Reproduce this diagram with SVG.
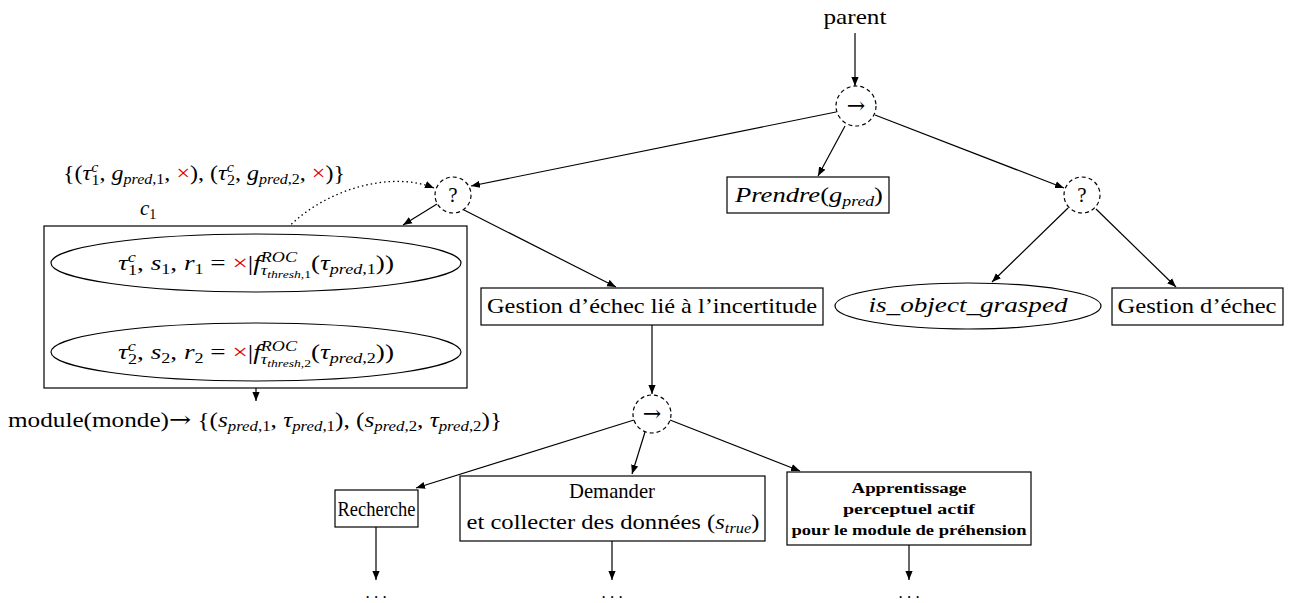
<svg xmlns="http://www.w3.org/2000/svg" width="1291" height="603" viewBox="0 0 1291 603">
<style>
text{font-family:"Liberation Serif","DejaVu Serif",serif;font-size:21px;fill:#000}
.i{font-style:italic}
.s{font-size:14px}
.ss{font-size:10.5px}
.r{fill:#e00000}
.b{font-weight:bold;font-size:15px}
.arr{font-family:"DejaVu Serif",serif;font-size:22px}
.dt{font-size:17px}
.box{fill:#fff;stroke:#000;stroke-width:1.2}
.dash{fill:#fff;stroke:#000;stroke-width:1.2;stroke-dasharray:4 3}
.e{fill:none;stroke:#000;stroke-width:1.2;marker-end:url(#ah)}
.dot{fill:none;stroke:#000;stroke-width:1.3;stroke-dasharray:1.5 3;marker-end:url(#ah)}
</style>
<defs>
<marker id="ah" viewBox="0 0 10 10" refX="10" refY="5" markerWidth="9" markerHeight="9" markerUnits="userSpaceOnUse" orient="auto"><path d="M0,1 L10,5 L0,9 z" fill="#000"/></marker>
</defs>
<rect width="1291" height="603" fill="#fff"/>
<g id="connectors">
<line class="e" x1="855" y1="33" x2="855" y2="86"/>
<line class="e" x1="836" y1="112" x2="471" y2="186"/>
<line class="e" x1="845" y1="126" x2="818" y2="176"/>
<line class="e" x1="875" y1="115" x2="1064" y2="188"/>
<line class="e" x1="437" y1="204" x2="403" y2="225"/>
<line class="e" x1="464" y1="210" x2="616" y2="287"/>
<path class="dot" d="M282,234 C320,190 390,170 434,188"/>
<line class="e" x1="256" y1="388" x2="256" y2="401"/>
<line class="e" x1="1068" y1="208" x2="992" y2="282"/>
<line class="e" x1="1096" y1="209" x2="1176" y2="287"/>
<line class="e" x1="652" y1="325" x2="652" y2="394"/>
<line class="e" x1="634" y1="420" x2="416" y2="488"/>
<line class="e" x1="645" y1="432" x2="632" y2="474"/>
<line class="e" x1="670" y1="420" x2="800" y2="471"/>
<line class="e" x1="376" y1="527" x2="376" y2="580"/>
<line class="e" x1="612" y1="541" x2="612" y2="580"/>
<line class="e" x1="909" y1="545" x2="909" y2="580"/>
</g>
<g id="parent"><text x="855" y="24" text-anchor="middle" textLength="63" lengthAdjust="spacingAndGlyphs">parent</text></g>
<g id="seq-top"><circle class="dash" cx="856" cy="106" r="20"/><text class="arr" x="856" y="113" text-anchor="middle">→</text></g>
<g id="fallback-left"><circle class="dash" cx="453" cy="195" r="18"/><text x="453" y="202" text-anchor="middle">?</text></g>
<g id="fallback-right"><circle class="dash" cx="1082" cy="195" r="18"/><text x="1082" y="202" text-anchor="middle">?</text></g>
<g id="prendre"><rect class="box" x="727" y="177" width="162" height="36"/><text x="809" y="202" text-anchor="middle" textLength="148" lengthAdjust="spacingAndGlyphs"><tspan class="i">Prendre</tspan>(<tspan class="i">g</tspan><tspan class="s i" dy="4">pred</tspan><tspan dy="-4">)</tspan></text></g>
<g id="set-label"><text x="63" y="180" textLength="282" lengthAdjust="spacingAndGlyphs">{(<tspan class="i">τ</tspan><tspan class="s i" dy="-8">c</tspan><tspan class="s" dx="-6" dy="13">1</tspan><tspan dy="-5">, </tspan><tspan class="i">g</tspan><tspan class="s i" dy="4">pred</tspan><tspan class="s">,1</tspan><tspan dy="-4">, </tspan><tspan class="r">×</tspan>), (<tspan class="i">τ</tspan><tspan class="s i" dy="-8">c</tspan><tspan class="s" dx="-6" dy="13">2</tspan><tspan dy="-5">, </tspan><tspan class="i">g</tspan><tspan class="s i" dy="4">pred</tspan><tspan class="s">,2</tspan><tspan dy="-4">, </tspan><tspan class="r">×</tspan>)}</text></g>
<g id="c1">
<text x="140" y="215" class="i">c<tspan class="s" font-style="normal" dy="4">1</tspan></text>
<rect class="box" x="44" y="226" width="423" height="162"/>
<ellipse class="box" cx="256" cy="263" rx="205" ry="29"/>
<text x="256" y="270" text-anchor="middle" textLength="276" lengthAdjust="spacingAndGlyphs"><tspan class="i">τ</tspan><tspan class="s i" dy="-8">c</tspan><tspan class="s" dx="-6" dy="13">1</tspan><tspan dy="-5">, </tspan><tspan class="i">s</tspan><tspan class="s" dy="4">1</tspan><tspan dy="-4">, </tspan><tspan class="i">r</tspan><tspan class="s" dy="4">1</tspan><tspan dy="-4"> = </tspan><tspan class="r">×</tspan>|<tspan class="i">f</tspan><tspan class="s i" dy="-8">ROC</tspan><tspan class="s i" dx="-28" dy="13">τ</tspan><tspan class="ss i" dy="3">thresh</tspan><tspan class="ss">,1</tspan><tspan dy="-8">(</tspan><tspan class="i">τ</tspan><tspan class="s i" dy="4">pred</tspan><tspan class="s">,1</tspan><tspan dy="-4">))</tspan></text>
<ellipse class="box" cx="256" cy="352" rx="205" ry="29"/>
<text x="256" y="359" text-anchor="middle" textLength="276" lengthAdjust="spacingAndGlyphs"><tspan class="i">τ</tspan><tspan class="s i" dy="-8">c</tspan><tspan class="s" dx="-6" dy="13">2</tspan><tspan dy="-5">, </tspan><tspan class="i">s</tspan><tspan class="s" dy="4">2</tspan><tspan dy="-4">, </tspan><tspan class="i">r</tspan><tspan class="s" dy="4">2</tspan><tspan dy="-4"> = </tspan><tspan class="r">×</tspan>|<tspan class="i">f</tspan><tspan class="s i" dy="-8">ROC</tspan><tspan class="s i" dx="-28" dy="13">τ</tspan><tspan class="ss i" dy="3">thresh</tspan><tspan class="ss">,2</tspan><tspan dy="-8">(</tspan><tspan class="i">τ</tspan><tspan class="s i" dy="4">pred</tspan><tspan class="s">,2</tspan><tspan dy="-4">))</tspan></text>
</g>
<g id="module-label"><text x="8" y="427" textLength="494" lengthAdjust="spacingAndGlyphs">module(monde)<tspan class="arr">→</tspan> {(<tspan class="i">s</tspan><tspan class="s i" dy="4">pred</tspan><tspan class="s">,1</tspan><tspan dy="-4">, </tspan><tspan class="i">τ</tspan><tspan class="s i" dy="4">pred</tspan><tspan class="s">,1</tspan><tspan dy="-4">), (</tspan><tspan class="i">s</tspan><tspan class="s i" dy="4">pred</tspan><tspan class="s">,2</tspan><tspan dy="-4">, </tspan><tspan class="i">τ</tspan><tspan class="s i" dy="4">pred</tspan><tspan class="s">,2</tspan><tspan dy="-4">)}</tspan></text></g>
<g id="gestion-incertitude"><rect class="box" x="481" y="288" width="342" height="37"/><text x="652" y="313" text-anchor="middle" textLength="330" lengthAdjust="spacingAndGlyphs">Gestion d’échec lié à l’incertitude</text></g>
<g id="is-object-grasped"><ellipse class="box" cx="968" cy="306" rx="133" ry="23"/><text x="968" y="312" text-anchor="middle" class="i" textLength="199" lengthAdjust="spacingAndGlyphs">is_object_grasped</text></g>
<g id="gestion-echec"><rect class="box" x="1112" y="288" width="171" height="37"/><text x="1197" y="313" text-anchor="middle" textLength="159" lengthAdjust="spacingAndGlyphs">Gestion d’échec</text></g>
<g id="seq-bottom"><circle class="dash" cx="652" cy="414" r="19"/><text class="arr" x="652" y="421" text-anchor="middle">→</text></g>
<g id="recherche"><rect class="box" x="335" y="490" width="83" height="37"/><text x="376.5" y="516" text-anchor="middle" font-size="23" textLength="78" lengthAdjust="spacingAndGlyphs">Recherche</text></g>
<g id="demander"><rect class="box" x="460" y="476" width="305" height="65"/><text x="612" y="498" text-anchor="middle" textLength="86" lengthAdjust="spacingAndGlyphs">Demander</text><text x="613" y="529" text-anchor="middle" textLength="293" lengthAdjust="spacingAndGlyphs">et collecter des données (<tspan class="i">s</tspan><tspan class="s i" dy="4">true</tspan><tspan dy="-4">)</tspan></text></g>
<g id="apprentissage"><rect class="box" x="787" y="472" width="244" height="73"/><text x="909" y="493" text-anchor="middle" class="b" textLength="115" lengthAdjust="spacingAndGlyphs">Apprentissage</text><text x="909" y="514" text-anchor="middle" class="b" textLength="132" lengthAdjust="spacingAndGlyphs">perceptuel actif</text><text x="909" y="535" text-anchor="middle" class="b" textLength="235" lengthAdjust="spacingAndGlyphs">pour le module de préhension</text></g>
<g id="dots"><text class="dt" x="376" y="598" text-anchor="middle">. . .</text><text class="dt" x="612" y="598" text-anchor="middle">. . .</text><text class="dt" x="909" y="598" text-anchor="middle">. . .</text></g>
</svg>
